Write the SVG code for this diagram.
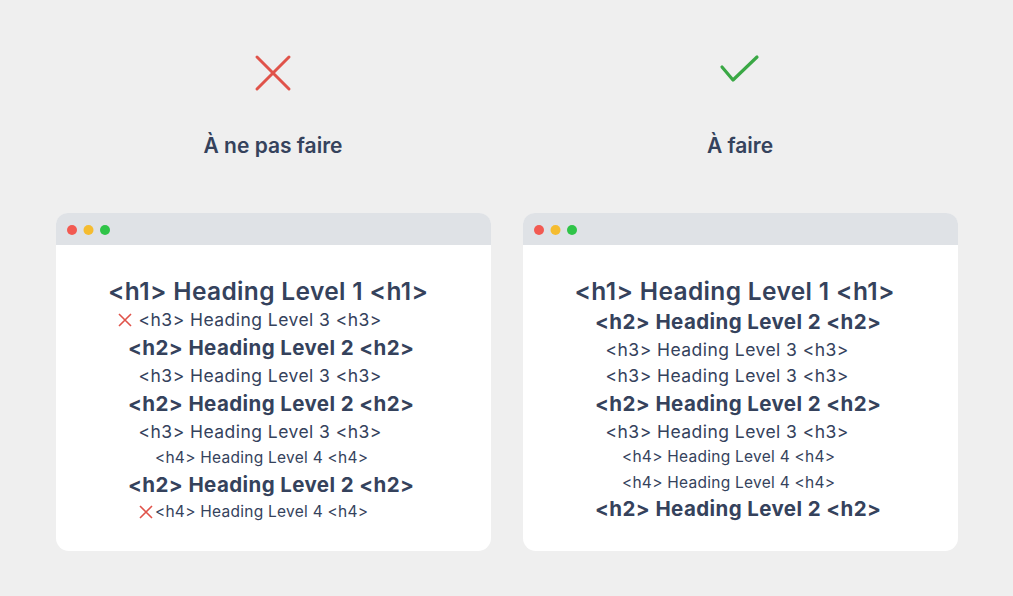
<svg xmlns="http://www.w3.org/2000/svg" width="1013" height="596" viewBox="0 0 1013 596">
<style>
.t{font-family:Inter,"Noto Sans","Liberation Sans",sans-serif;fill:#35425c;text-anchor:middle}
.title{font-size:21px;font-weight:600}
.h1{font-size:24.5px;font-weight:600;letter-spacing:0.35px}
.h2{font-size:20.5px;font-weight:700;letter-spacing:0.4px}
.h3{font-size:17.5px;font-weight:400;letter-spacing:0.45px}
.h4{font-size:15.5px;font-weight:400;letter-spacing:0.26px}
.card{fill:#ffffff}
.bar{fill:#dfe2e6}
.x{stroke:#e0534a;stroke-width:1.6;fill:none}
</style>
<rect width="1013" height="596" fill="#efefef"/>
<g id="bad-header">
<path d="M257 57 L289 89 M289 57 L257 89" stroke="#e0534a" stroke-width="3" stroke-linecap="round" fill="none"/>
<text class="t title" x="273" y="153">À ne pas faire</text>
</g>
<g id="good-header">
<path d="M722 67 L733 80 L757 57" stroke="#3aa845" stroke-width="3.2" stroke-linecap="round" stroke-linejoin="round" fill="none"/>
<text class="t title" x="740" y="153">À faire</text>
</g>
<g id="bad-card">
<rect class="card" x="56" y="213" width="435" height="338" rx="13"/>
<path class="bar" d="M56 245 V225 a12 12 0 0 1 12 -12 H479 a12 12 0 0 1 12 12 V245 Z"/>
<circle cx="72" cy="230" r="5" fill="#f25a52"/>
<circle cx="88.5" cy="230" r="5" fill="#f5bc30"/>
<circle cx="105" cy="230" r="5" fill="#2fc448"/>
<text class="t h1" x="268.2" y="300">&lt;h1&gt; Heading Level 1 &lt;h1&gt;</text>
<path class="x" d="M119 314 L131 326 M131 314 L119 326"/>
<text class="t h3" x="260.2" y="326">&lt;h3&gt; Heading Level 3 &lt;h3&gt;</text>
<text class="t h2" x="271.2" y="355">&lt;h2&gt; Heading Level 2 &lt;h2&gt;</text>
<text class="t h3" x="260.2" y="382">&lt;h3&gt; Heading Level 3 &lt;h3&gt;</text>
<text class="t h2" x="271.2" y="411">&lt;h2&gt; Heading Level 2 &lt;h2&gt;</text>
<text class="t h3" x="260.2" y="438">&lt;h3&gt; Heading Level 3 &lt;h3&gt;</text>
<text class="t h4" x="261.6" y="463">&lt;h4&gt; Heading Level 4 &lt;h4&gt;</text>
<text class="t h2" x="271.2" y="492">&lt;h2&gt; Heading Level 2 &lt;h2&gt;</text>
<path class="x" d="M140 506 L152 518 M152 506 L140 518"/>
<text class="t h4" x="261.6" y="517">&lt;h4&gt; Heading Level 4 &lt;h4&gt;</text>
</g>
<g id="good-card">
<rect class="card" x="523" y="213" width="435" height="338" rx="13"/>
<path class="bar" d="M523 245 V225 a12 12 0 0 1 12 -12 H946 a12 12 0 0 1 12 12 V245 Z"/>
<circle cx="539" cy="230" r="5" fill="#f25a52"/>
<circle cx="555.5" cy="230" r="5" fill="#f5bc30"/>
<circle cx="572" cy="230" r="5" fill="#2fc448"/>
<text class="t h1" x="734.7" y="300">&lt;h1&gt; Heading Level 1 &lt;h1&gt;</text>
<text class="t h2" x="738.2" y="329">&lt;h2&gt; Heading Level 2 &lt;h2&gt;</text>
<text class="t h3" x="727.2" y="356">&lt;h3&gt; Heading Level 3 &lt;h3&gt;</text>
<text class="t h3" x="727.2" y="382">&lt;h3&gt; Heading Level 3 &lt;h3&gt;</text>
<text class="t h2" x="738.2" y="411">&lt;h2&gt; Heading Level 2 &lt;h2&gt;</text>
<text class="t h3" x="727.2" y="438">&lt;h3&gt; Heading Level 3 &lt;h3&gt;</text>
<text class="t h4" x="728.6" y="462">&lt;h4&gt; Heading Level 4 &lt;h4&gt;</text>
<text class="t h4" x="728.6" y="488">&lt;h4&gt; Heading Level 4 &lt;h4&gt;</text>
<text class="t h2" x="738.2" y="516">&lt;h2&gt; Heading Level 2 &lt;h2&gt;</text>
</g>
</svg>
